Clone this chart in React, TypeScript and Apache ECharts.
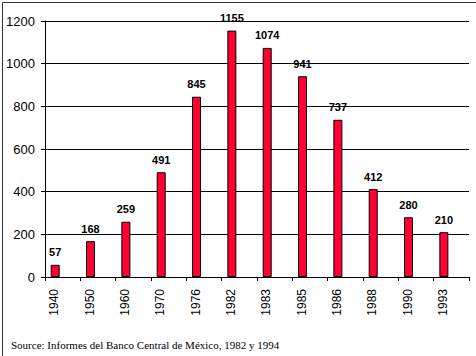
import React, { useEffect, useRef } from "react";
import * as echarts from "echarts";

const years = ["1940", "1950", "1960", "1970", "1976", "1982", "1983", "1985", "1986", "1988", "1990", "1993"];
const values = [57, 168, 259, 491, 845, 1155, 1074, 941, 737, 412, 280, 210];
const emptyValues = years.map(() => null);
const sourceText = "Source: Informes del Banco Central de México, 1982 y 1994";

const SANS = "Liberation Sans";

export default function App() {
  const ref = useRef<HTMLDivElement>(null);
  useEffect(() => {
    if (!ref.current) return;
    const chart = echarts.init(ref.current, null, { renderer: "svg" });
    chart.setOption({
      animation: false,
      backgroundColor: "#ffffff",
      title: {
        text: sourceText,
        left: 6,
        top: 334,
        textStyle: {
          color: "#000",
          fontSize: 11,
          fontWeight: "normal",
          fontFamily: "Liberation Serif",
        },
      },
      grid: { left: 45, right: 7, top: 21, bottom: 79, containLabel: false },
      xAxis: {
        type: "category",
        data: years,
        boundaryGap: true,
        axisLine: { show: true, lineStyle: { color: "#000", width: 1 } },
        axisTick: { show: true, length: 4, lineStyle: { color: "#000" } },
        axisLabel: {
          rotate: 90,
          margin: 12,
          color: "#000",
          fontSize: 12,
          fontFamily: SANS,
          verticalAlign: "bottom",
          lineHeight: 17,
        },
        splitLine: { show: false },
      },
      yAxis: {
        type: "value",
        min: 0,
        max: 1200,
        interval: 200,
        axisLine: { show: true, lineStyle: { color: "#000", width: 1 } },
        axisTick: { show: true, length: 4, lineStyle: { color: "#000" } },
        axisLabel: {
          margin: 10,
          color: "#000",
          fontSize: 13,
          fontFamily: SANS,
          formatter: (v: number) => String(v),
        },
        splitLine: { show: true, lineStyle: { color: "#000", width: 1 } },
      },
      series: [
        {
          type: "bar",
          data: values,
          barWidth: 9,
          barGap: "66%",
          itemStyle: { color: "#FF0033", borderColor: "#000", borderWidth: 1 },
          label: {
            show: true,
            position: "top",
            distance: 7,
            color: "#000",
            fontWeight: "bold",
            fontSize: 11,
            fontFamily: SANS,
          },
        },
        {
          type: "bar",
          data: emptyValues,
          barWidth: 9,
          itemStyle: { color: "transparent" },
        },
      ],
      graphic: [
        {
          type: "rect",
          left: 0,
          top: 0,
          shape: { x: 0.5, y: 0.5, width: 475, height: 355 },
          style: { fill: "none", stroke: "#333", lineWidth: 1 },
          silent: true,
        },
      ],
    });
    return () => chart.dispose();
  }, []);
  return (
    <div style={{ position: "absolute", left: 0, top: 0, width: 476, height: 356 }}>
      <div ref={ref} style={{ width: 476, height: 356 }} />
    </div>
  );
}
